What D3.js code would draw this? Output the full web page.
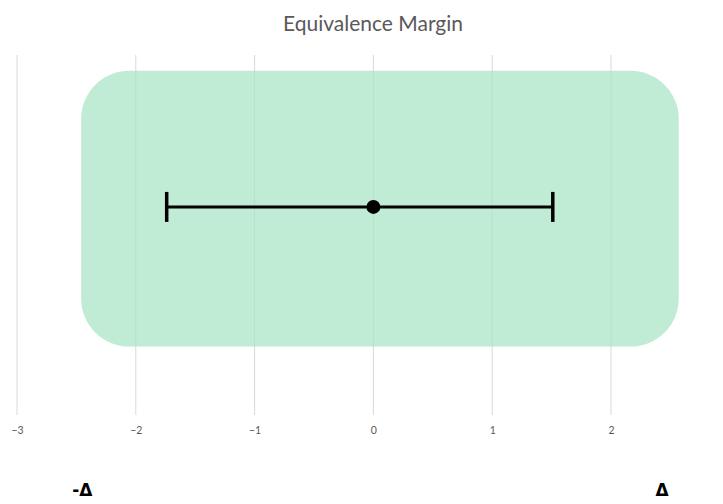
<!DOCTYPE html>
<html><head><meta charset="utf-8">
<script src="https://cdn.jsdelivr.net/npm/d3@7"></script>
<style>html,body{margin:0;padding:0;background:#fff;overflow:hidden;}svg{display:block;}</style>
</head><body>
<svg id="c" width="723" height="504"></svg>
<script>
const title = "Equivalence Margin";
const xTicks = [-3, -2, -1, 0, 1, 2];
const estimate = [0];
const ciLower = [-1.74];
const ciUpper = [1.51];
const estimateY = [0.578];
const marginX = [-2.46, 2.57];
const marginY = [0.19, 0.956];
const deltaLabels = ["-Δ", "Δ"];
const deltaX = [-2.45, 2.43];

const svg = d3.select("#c");
const x = d3.scaleLinear().domain([-3, 2]).range([17, 611]);
const y = d3.scaleLinear().domain([0, 1]).range([415, 55]);

// title
svg.append("text").attr("x", 373).attr("y", 31).attr("text-anchor", "middle")
  .attr("font-family", "Lato, 'Open Sans', sans-serif").attr("font-size", 21)
  .attr("fill", "#595959").text(title);

// gridlines
svg.append("g").selectAll("line").data(xTicks).join("line")
  .attr("x1", d => x(d)).attr("x2", d => x(d))
  .attr("y1", y(1)).attr("y2", y(0))
  .attr("stroke", "#d9d9d9").attr("stroke-width", 1);

// margin rect
svg.append("rect")
  .attr("x", x(marginX[0])).attr("width", x(marginX[1]) - x(marginX[0]))
  .attr("y", y(marginY[1])).attr("height", y(marginY[0]) - y(marginY[1]))
  .attr("rx", 48).attr("ry", 48)
  .attr("fill", "#a8e3c5").attr("fill-opacity", 0.72);

// axis labels
const axis = d3.axisBottom(x).tickValues(xTicks).tickSize(0).tickPadding(0).tickFormat(d3.format("d"));
const ag = svg.append("g").attr("transform", `translate(0,${y(0) + 19})`).call(axis);
ag.select(".domain").remove();
ag.selectAll("text").attr("font-family", "Lato, 'Open Sans', sans-serif")
  .attr("font-size", 10.5).attr("fill", "#595959").attr("dy", "0");

// error bar
const eb = svg.append("g");
estimate.forEach((e, i) => {
  const cy = y(estimateY[i]);
  eb.append("line").attr("x1", x(ciLower[i])).attr("x2", x(ciUpper[i]))
    .attr("y1", cy).attr("y2", cy).attr("stroke", "#000").attr("stroke-width", 3);
  [ciLower[i], ciUpper[i]].forEach(v => {
    eb.append("line").attr("x1", x(v)).attr("x2", x(v))
      .attr("y1", cy - 15).attr("y2", cy + 15)
      .attr("stroke", "#000").attr("stroke-width", 3.5);
  });
  eb.append("circle").attr("cx", x(e)).attr("cy", cy).attr("r", 7).attr("fill", "#000");
});

// delta labels
svg.append("g").selectAll("text").data(deltaLabels).join("text")
  .attr("x", (d, i) => x(deltaX[i])).attr("y", 496).attr("text-anchor", "middle")
  .attr("font-family", "'DejaVu Sans', sans-serif").attr("font-size", 17)
  .attr("font-weight", "bold")
  .attr("fill", "#000").text(d => d);
</script>
</body></html>
